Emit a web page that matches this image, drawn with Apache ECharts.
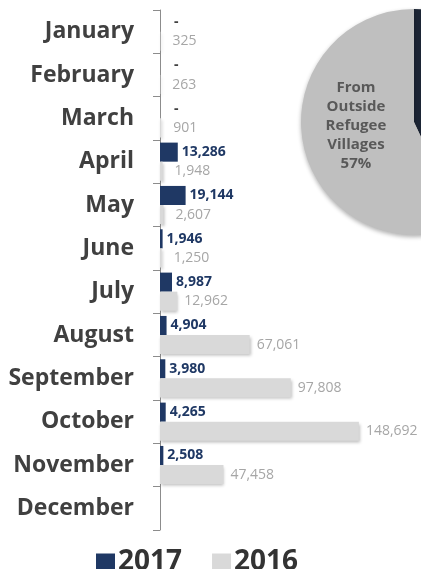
<!DOCTYPE html>
<html>
<head>
<meta charset="utf-8">
<script src="https://cdn.jsdelivr.net/npm/echarts@6/dist/echarts.min.js"></script>
<style>
html,body{margin:0;padding:0;background:#fff;}
#chart{width:421px;height:569px;}
</style>
</head>
<body>
<div id="chart"></div>
<script>
const months = ['January','February','March','April','May','June','July','August','September','October','November','December'];
const values2017 = [0, 0, 0, 13286, 19144, 1946, 8987, 4904, 3980, 4265, 2508, null];
const values2016 = [325, 263, 901, 1948, 2607, 1250, 12962, 67061, 97808, 148692, 47458, null];
const pieNames = ['From Inside Refugee Villages', 'From Outside Refugee Villages'];
const pieValues = [43, 57];

const NAVY = '#1f3864';
const GRAY = '#d9d9d9';
const FONT = 'Open Sans';

const fmt = v => v.toLocaleString('en-US');

const chart = echarts.init(document.getElementById('chart'), null, {renderer: 'canvas'});
chart.setOption({
  animation: false,
  textStyle: {fontFamily: FONT},
  grid: {left: 160, right: 47, top: 10, bottom: 39, containLabel: false},
  legend: {
    left: 91, top: 542,
    itemWidth: 19, itemHeight: 17, itemGap: 30,
    icon: 'rect',
    textStyle: {fontFamily: FONT, fontSize: 28, fontWeight: 'bold', color: '#333333', padding: [0,0,0,-2], lineHeight: 30},
    data: ['2017', '2016']
  },
  xAxis: {
    type: 'value', min: 0, max: 160000,
    show: false
  },
  yAxis: {
    type: 'category', inverse: true, data: months,
    axisLine: {show: true, lineStyle: {color: '#8c8c8c', width: 1}},
    axisTick: {show: true, inside: false, length: 7, lineStyle: {color: '#8c8c8c'}},
    axisLabel: {fontFamily: FONT, fontSize: 23, fontWeight: 'bold', color: '#404040', margin: 26},
    splitLine: {show: false}
  },
  series: [
    {
      name: '2017', type: 'bar', barGap: '0%', barCategoryGap: '12%',
      itemStyle: {color: NAVY},
      label: {
        show: true, position: 'right', distance: 4,
        fontFamily: FONT, fontSize: 14, fontWeight: 'bold', color: NAVY,
        formatter: p => p.value === 0 ? '-' : fmt(p.value)
      },
      data: values2017.map(v => v === 0 ? {value: 0, label: {distance: 14, color: '#404040'}} : v)
    },
    {
      name: '2016', type: 'bar', barGap: '0%', barCategoryGap: '12%',
      itemStyle: {color: GRAY, shadowColor: 'rgba(0,0,0,0.25)', shadowBlur: 3, shadowOffsetY: 2, shadowOffsetX: 1},
      label: {
        show: true, position: 'right', distance: 7,
        fontFamily: FONT, fontSize: 14, color: '#a6a6a6',
        formatter: p => fmt(p.value)
      },
      data: values2016.map(v => (v !== null && v < 3000) ? {value: v, label: {distance: 12}} : v)
    },
    {
      type: 'pie', center: [414, 122], radius: 113,
      startAngle: 90, clockwise: true,
      silent: true,
      itemStyle: {shadowColor: 'rgba(0,0,0,0.3)', shadowBlur: 4, shadowOffsetY: 2},
      label: {
        position: 'inside', fontFamily: FONT, fontSize: 15, fontWeight: 'bold',
        color: '#595959', lineHeight: 19, align: 'center'
      },
      labelLine: {show: false},
      labelLayout: {dy: -9},
      data: pieNames.map((n, i) => ({
        name: n, value: pieValues[i],
        itemStyle: {color: i === 0 ? '#1c2535' : '#bfbfbf'},
        label: i === 0 ? {show: false} : {show: true, formatter: n.replace(/ /g, '\n') + '\n' + pieValues[i] + '%'}
      }))
    }
  ]
});
</script>
</body>
</html>
